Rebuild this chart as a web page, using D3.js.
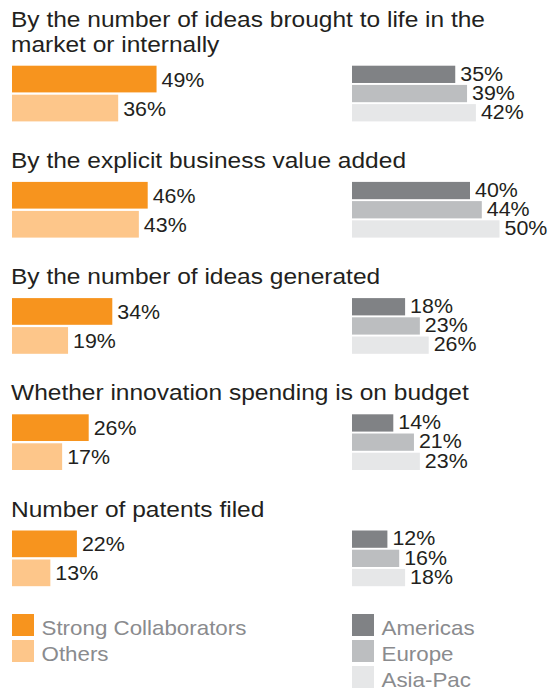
<!doctype html>
<html lang="en">
<head>
  <meta charset="utf-8">
  <style>
    body { margin: 0; background: #fff; }
    text { font-family: "Liberation Sans", Arial, Helvetica, sans-serif; }
  </style>
</head>
<body>
  <div id="chart"></div>
  <script src="https://d3js.org/d3.v7.min.js"></script>
  <script>
    // Data
    var questions = [
      ["By the number of ideas brought to life in the", "market or internally"],
      ["By the explicit business value added"],
      ["By the number of ideas generated"],
      ["Whether innovation spending is on budget"],
      ["Number of patents filed"]
    ];
    var strong   = [49, 46, 34, 26, 22];
    var others   = [36, 43, 19, 17, 13];
    var americas = [35, 40, 18, 14, 12];
    var europe   = [39, 44, 23, 21, 16];
    var asiaPac  = [42, 50, 26, 23, 18];

    var leftNames  = ["Strong Collaborators", "Others"];
    var rightNames = ["Americas", "Europe", "Asia-Pac"];
    var leftColors  = ["#F7941E", "#FDC68A"];
    var rightColors = ["#808285", "#BCBEC0", "#E6E7E8"];

    var width = 549, height = 690;
    var leftX = 12, rightX = 352;
    var lineH = 24.4, titleToBars = 14, blockH = 55.7, groupGap = 46.5;

    var svg = d3.select("#chart").append("svg")
      .attr("width", width)
      .attr("height", height);

    var x = d3.scaleLinear().domain([0, 100]).range([0, 295]);
    var yLeft = d3.scaleBand().domain(d3.range(2)).range([0, blockH]).paddingInner(0.079);
    var yRight = d3.scaleBand().domain(d3.range(3)).range([0, blockH]).paddingInner(0.1);

    // text is a bit wider than the font normally sets it, so stretch it
    function label(sel, tx, ty, size, sx, color, str) {
      sel.append("text")
        .attr("transform", "translate(" + tx + "," + ty + ") scale(" + sx + ",1)")
        .attr("font-size", size)
        .attr("fill", color)
        .text(str);
    }

    var rows = questions.map(function(q, i) {
      return {
        title: q,
        left: [strong[i], others[i]],
        right: [americas[i], europe[i], asiaPac[i]]
      };
    });

    var y = 27.3;
    rows.forEach(function(r) {
      r.y = y;
      r.barsTop = y + (r.title.length - 1) * lineH + titleToBars;
      y = r.barsTop + blockH + groupGap;
    });

    rows.forEach(function(r) {
      var g = svg.append("g").attr("class", "group");

      r.title.forEach(function(t, i) {
        label(g, leftX - 1, r.y + i * lineH, 21.5, 1.14, "#231F20", t);
      });

      var lg = g.append("g").attr("transform", "translate(" + leftX + "," + r.barsTop + ")");
      lg.selectAll("rect").data(r.left).enter()
        .append("rect")
        .attr("x", 0)
        .attr("y", function(d, i) { return yLeft(i); })
        .attr("width", function(d) { return x(d); })
        .attr("height", yLeft.bandwidth())
        .attr("fill", function(d, i) { return leftColors[i]; });
      r.left.forEach(function(d, i) {
        label(lg, x(d) + 5, yLeft(i) + yLeft.bandwidth() / 2 + 7.5, 20, 1.07, "#231F20", d + "%");
      });

      var rg = g.append("g").attr("transform", "translate(" + rightX + "," + r.barsTop + ")");
      rg.selectAll("rect").data(r.right).enter()
        .append("rect")
        .attr("x", 0)
        .attr("y", function(d, i) { return yRight(i); })
        .attr("width", function(d) { return x(d); })
        .attr("height", yRight.bandwidth())
        .attr("fill", function(d, i) { return rightColors[i]; });
      r.right.forEach(function(d, i) {
        label(rg, x(d) + 5, yRight(i) + yRight.bandwidth() / 2 + 6.3, 20, 1.07, "#231F20", d + "%");
      });
    });

    // Legend
    function legend(names, colors, lx) {
      var lgd = svg.append("g").attr("transform", "translate(" + lx + ",614)");
      names.forEach(function(n, i) {
        var item = lgd.append("g").attr("transform", "translate(0," + (i * 26) + ")");
        item.append("rect")
          .attr("width", 22)
          .attr("height", 22)
          .attr("fill", colors[i]);
        label(item, 29.5, 21, 20.5, 1.09, "#8A8B8E", n);
      });
    }
    legend(leftNames, leftColors, leftX);
    legend(rightNames, rightColors, rightX);
  </script>
</body>
</html>
